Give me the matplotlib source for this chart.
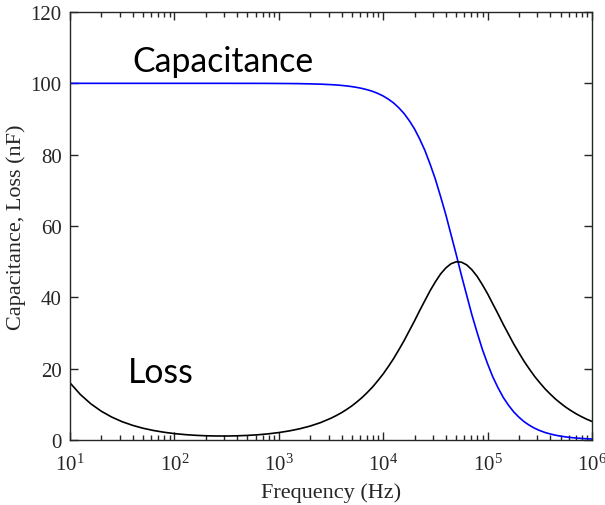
import matplotlib.pyplot as plt

# values: 0.1-decade steps up to 10^3.4,
# 0.05-decade steps through the relaxation region up to 1 MHz
log_freq = [1.0, 1.1, 1.2, 1.3, 1.4, 1.5, 1.6, 1.7, 1.8, 1.9,
            2.0, 2.1, 2.2, 2.3, 2.4, 2.5, 2.6, 2.7, 2.8, 2.9,
            3.0, 3.1, 3.2, 3.3, 3.4,
            3.5, 3.55, 3.6, 3.65, 3.7, 3.75, 3.8, 3.85, 3.9, 3.95,
            4.0, 4.05, 4.1, 4.15, 4.2, 4.25, 4.3, 4.35, 4.4, 4.45,
            4.5, 4.55, 4.6, 4.65, 4.7, 4.75, 4.8, 4.85, 4.9, 4.95,
            5.0, 5.05, 5.1, 5.15, 5.2, 5.25, 5.3, 5.35, 5.4, 5.45,
            5.5, 5.55, 5.6, 5.65, 5.7, 5.75, 5.8, 5.85, 5.9, 5.95, 6.0]
capacitance = [100.0, 100.0, 100.0, 100.0, 100.0, 100.0, 100.0, 100.0, 100.0, 100.0,
               100.0, 100.0, 100.0, 100.0, 100.0, 100.0, 99.99, 99.99, 99.99, 99.98,
               99.96, 99.94, 99.91, 99.85, 99.77,
               99.63, 99.54, 99.42, 99.27, 99.08, 98.84, 98.55, 98.18, 97.73, 97.15,
               96.45, 95.55, 94.49, 93.13, 91.53, 89.53, 87.22, 84.36, 81.15, 77.29,
               73.09, 68.23, 63.16, 57.54, 51.96, 46.09, 40.56, 35.04, 30.09, 25.40,
               21.36, 17.68, 14.63, 11.93, 9.76, 7.88, 6.39, 5.12, 4.13, 3.29,
               2.64, 2.10, 1.69, 1.34, 1.07, 0.85, 0.68, 0.54, 0.43, 0.34, 0.27]
loss = [16.02, 12.73, 10.13, 8.06, 6.42, 5.12, 4.10, 3.29, 2.66, 2.17,
        1.79, 1.51, 1.31, 1.18, 1.12, 1.11, 1.17, 1.28, 1.46, 1.72,
        2.08, 2.54, 3.14, 3.90, 4.87,
        6.10, 6.84, 7.64, 8.56, 9.56, 10.72, 11.96, 13.39, 14.91, 16.67,
        18.53, 20.62, 22.83, 25.30, 27.84, 30.62, 33.39, 36.32, 39.11, 41.89,
        44.35, 46.56, 48.24, 49.43, 49.96, 49.85, 49.10, 47.71, 45.87, 43.53,
        40.99, 38.15, 35.34, 32.42, 29.68, 26.94, 24.45, 22.04, 19.89, 17.84,
        16.05, 14.35, 12.87, 11.49, 10.29, 9.17, 8.20, 7.31, 6.53, 5.81, 5.20]

freq = [10 ** v for v in log_freq]

plt.rcParams["font.family"] = "Liberation Serif"
plt.rcParams["mathtext.fontset"] = "stix"

fig = plt.figure(figsize=(6.05, 5.06), dpi=100)
ax = fig.add_axes([0.1157, 0.1285, 0.8628, 0.8458])

ax.plot(freq, capacitance, color="#0000ff", lw=1.2)
ax.plot(freq, loss, color="black", lw=1.2)

ax.set_xscale("log")
ax.set_xlim(10, 1e6)
ax.set_ylim(0, 120)
ax.set_yticks(range(0, 121, 20))
ax.set_xticks([1e1, 1e2, 1e3, 1e4, 1e5, 1e6])

ax.set_xlabel("Frequency (Hz)", fontsize=16, color="#262626", labelpad=5)
ax.set_ylabel("Capacitance, Loss (nF)", fontsize=16, color="#262626", labelpad=3)

ax.tick_params(which="both", direction="in", top=True, right=True,
               labelsize=15, colors="#262626", width=1)
ax.tick_params(which="major", length=6)
ax.tick_params(which="minor", length=3.5)
ax.tick_params(axis="x", which="major", pad=10)
ax.tick_params(axis="y", which="major", pad=6)
for s in ax.spines.values():
    s.set_color("#262626")
    s.set_linewidth(1)

ax.text(40, 103.4, "Capacitance", family="Lato", fontsize=24.3,
        color="black", va="baseline")
ax.text(36, 16.3, "Loss", family="Lato", fontsize=24.3,
        color="black", va="baseline")

fig.savefig("out.png", dpi=100)
